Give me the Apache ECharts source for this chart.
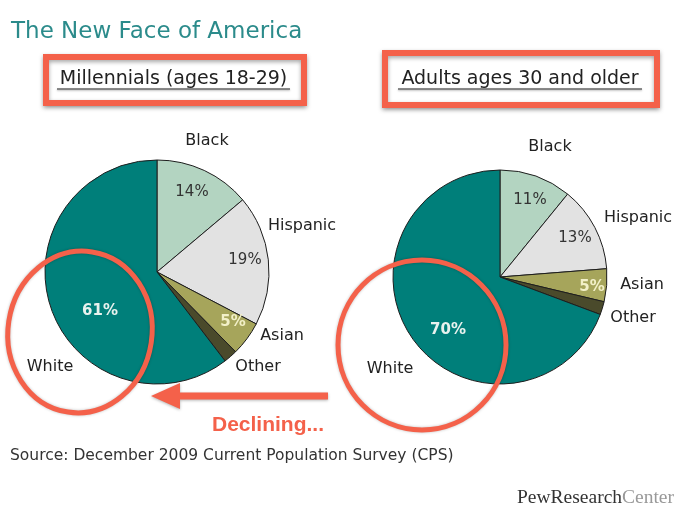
<!DOCTYPE html>
<html>
<head>
<meta charset="utf-8">
<script src="https://cdn.jsdelivr.net/npm/echarts@6/dist/echarts.min.js"></script>
<style>
  html, body { margin: 0; padding: 0; background: #fff; }
  #main { width: 700px; height: 525px; }
</style>
</head>
<body>
<div id="main"></div>
<script>
// data
var groups = ['Black', 'Hispanic', 'Asian', 'Other', 'White'];
var millennialShare = [14, 19, 5, 2, 61];
var olderShare = [11, 13, 5, 2, 70];
var panelTitles = ['Millennials (ages 18-29)', 'Adults ages 30 and older'];

var sliceColors = ['#b3d4c1', '#e2e2e2', '#a6a55b', '#4a4a2b', '#007f7a'];
var red = '#f4614a';
var font = 'DejaVu Sans';

// pie geometry (px)
var pies = [
  { center: [157, 272], radius: 112 },
  { center: [500, 277], radius: 107 }
];
// label spots relative to pie centre
var nameSpots = [
  [[50, -131], [145, -46], [125, 64], [101, 95], [-107, 95]],
  [[50, -130], [138, -59], [142, 8], [133, 41], [-110, 92]]
];
var pctSpots = [
  [[35, -80], [88, -12], [76, 50], [0, 0], [-57, 39]],
  [[30, -77], [75, -39], [92, 10], [0, 0], [-52, 53]]
];
var pctColors = ['#333', '#333', '#f2f0c8', '#333', '#e8f2ee'];
var pctWeights = ['normal', 'normal', 'bold', 'normal', 'bold'];

function makeData(values) {
  return groups.map(function (g, i) {
    return {
      name: g,
      value: values[i],
      itemStyle: { color: sliceColors[i] },
      label: { color: pctColors[i], fontWeight: pctWeights[i] }
    };
  });
}

function spotLayout(pieIdx, spots) {
  return function (p) {
    var s = spots[pieIdx][p.dataIndex];
    return {
      x: pies[pieIdx].center[0] + s[0],
      y: pies[pieIdx].center[1] + s[1],
      align: 'center',
      verticalAlign: 'middle'
    };
  };
}

var series = [];
[millennialShare, olderShare].forEach(function (vals, k) {
  // slices + percentage labels
  series.push({
    type: 'pie',
    center: pies[k].center,
    radius: pies[k].radius,
    startAngle: 90,
    clockwise: true,
    avoidLabelOverlap: false,
    silent: true,
    itemStyle: { borderColor: '#1e1e1e', borderWidth: 1 },
    label: {
      position: 'inside',
      fontFamily: font,
      fontSize: 15,
      formatter: function (p) { return p.name === 'Other' ? '' : p.value + '%'; }
    },
    labelLine: { show: false },
    labelLayout: spotLayout(k, pctSpots),
    data: makeData(vals)
  });
  // category name labels
  series.push({
    type: 'pie',
    center: pies[k].center,
    radius: pies[k].radius,
    startAngle: 90,
    clockwise: true,
    avoidLabelOverlap: false,
    silent: true,
    itemStyle: { color: 'rgba(0,0,0,0)', borderWidth: 0 },
    label: {
      position: 'outside',
      fontFamily: font,
      fontSize: 16,
      color: '#222',
      formatter: '{b}'
    },
    labelLine: { show: false },
    labelLayout: spotLayout(k, nameSpots),
    data: groups.map(function (g, i) { return { name: g, value: vals[i] }; })
  });
});

var boxes = [
  { x: 46, y: 57, w: 258, h: 46, tx: 173.5, ux: [57, 290] },
  { x: 385, y: 53, w: 272, h: 52, tx: 520, ux: [398, 642] }
];

var graphic = [
  {
    type: 'text', left: 11, top: 21,
    style: { text: 'The New Face of America', font: '23px "DejaVu Sans"', fill: '#2b8b8b' }
  }
];
boxes.forEach(function (b, i) {
  graphic.push({
    type: 'rect',
    shape: { x: b.x, y: b.y, width: b.w, height: b.h },
    style: { fill: '#fff', stroke: red, lineWidth: 6, shadowBlur: 4, shadowOffsetY: 2, shadowColor: 'rgba(0,0,0,0.35)' },
    z: 1
  });
  graphic.push({
    type: 'text', x: b.tx, y: 79,
    style: { text: panelTitles[i], font: '19px "DejaVu Sans"', fill: '#222', align: 'center', verticalAlign: 'middle' },
    z: 2
  });
  graphic.push({
    type: 'line',
    shape: { x1: b.ux[0], y1: 89, x2: b.ux[1], y2: 89 },
    style: { stroke: '#666', lineWidth: 1.5, shadowBlur: 2, shadowOffsetY: 1, shadowColor: 'rgba(0,0,0,0.3)' },
    z: 2
  });
});
// circles around "White"
graphic.push({
  type: 'ellipse',
  shape: { cx: 80, cy: 332, rx: 72, ry: 81 },
  rotation: -0.15, originX: 80, originY: 332,
  style: { fill: null, stroke: red, lineWidth: 5, shadowBlur: 3, shadowColor: 'rgba(0,0,0,0.25)' },
  z: 10
});
graphic.push({
  type: 'ellipse',
  shape: { cx: 422, cy: 345, rx: 84, ry: 85 },
  style: { fill: null, stroke: red, lineWidth: 5, shadowBlur: 3, shadowColor: 'rgba(0,0,0,0.25)' },
  z: 10
});
// arrow
graphic.push({
  type: 'polygon',
  shape: { points: [[151, 396], [180, 383], [180, 392.5], [328, 392.5], [328, 399.5], [180, 399.5], [180, 409]] },
  style: { fill: red, shadowBlur: 3, shadowOffsetY: 1, shadowColor: 'rgba(0,0,0,0.3)' },
  z: 10
});
graphic.push({
  type: 'text', x: 268, y: 425,
  style: { text: 'Declining...', font: 'bold 21px "Liberation Sans"', fill: red, align: 'center', verticalAlign: 'middle' },
  z: 10
});
graphic.push({
  type: 'text', x: 10, y: 456,
  style: { text: 'Source: December 2009 Current Population Survey (CPS)', font: '15.5px "DejaVu Sans"', fill: '#333', verticalAlign: 'middle' }
});
graphic.push({
  type: 'text', x: 517, y: 498,
  style: {
    text: '{a|PewResearch}{b|Center}',
    verticalAlign: 'middle',
    rich: {
      a: { fontFamily: 'Liberation Serif', fontSize: 19.5, fill: '#333' },
      b: { fontFamily: 'Liberation Serif', fontSize: 19.5, fill: '#999' }
    }
  }
});

var chart = echarts.init(document.getElementById('main'));
chart.setOption({
  backgroundColor: '#fff',
  animation: false,
  series: series,
  graphic: graphic
});
</script>
</body>
</html>
